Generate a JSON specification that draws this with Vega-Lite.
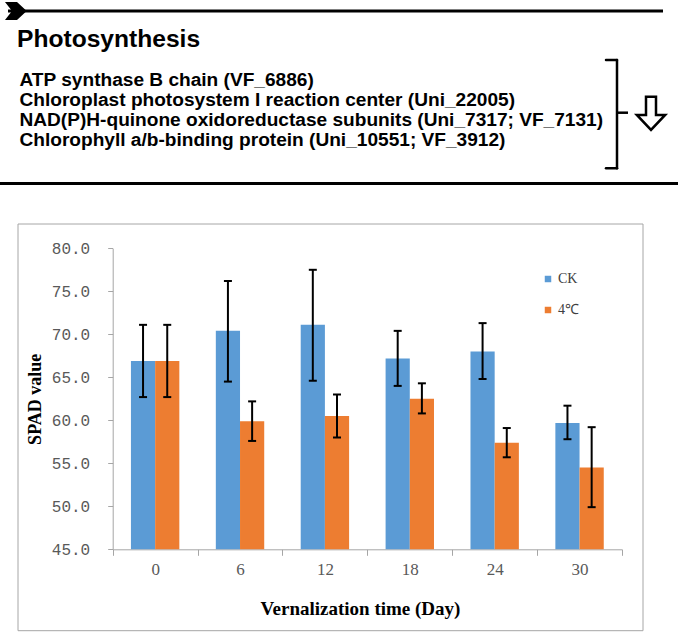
{
  "$schema": "https://vega.github.io/schema/vega-lite/v6.json",
  "width": 678,
  "height": 634,
  "padding": 0,
  "autosize": {"type": "none"},
  "background": "white",
  "config": {"view": {"stroke": null}},
  "datasets": {
    "notes": [
      {"role": "heading", "rank": 0, "label": "Photosynthesis"},
      {"role": "item", "rank": 1, "label": "ATP synthase B chain (VF_6886)"},
      {"role": "item", "rank": 2, "label": "Chloroplast photosystem I reaction center (Uni_22005)"},
      {"role": "item", "rank": 3, "label": "NAD(P)H-quinone oxidoreductase subunits (Uni_7317; VF_7131)"},
      {"role": "item", "rank": 4, "label": "Chlorophyll a/b-binding protein (Uni_10551; VF_3912)"}
    ],
    "spad": [
      {"day": 0, "treatment": "CK", "spad": 66.9, "lo": 62.7, "hi": 71.1},
      {"day": 0, "treatment": "4℃", "spad": 66.9, "lo": 62.7, "hi": 71.1},
      {"day": 6, "treatment": "CK", "spad": 70.4, "lo": 64.5, "hi": 76.2},
      {"day": 6, "treatment": "4℃", "spad": 59.9, "lo": 57.6, "hi": 62.2},
      {"day": 12, "treatment": "CK", "spad": 71.1, "lo": 64.6, "hi": 77.5},
      {"day": 12, "treatment": "4℃", "spad": 60.5, "lo": 58.0, "hi": 63.0},
      {"day": 18, "treatment": "CK", "spad": 67.2, "lo": 64.0, "hi": 70.4},
      {"day": 18, "treatment": "4℃", "spad": 62.5, "lo": 60.8, "hi": 64.3},
      {"day": 24, "treatment": "CK", "spad": 68.0, "lo": 64.8, "hi": 71.3},
      {"day": 24, "treatment": "4℃", "spad": 57.4, "lo": 55.7, "hi": 59.1},
      {"day": 30, "treatment": "CK", "spad": 59.7, "lo": 57.8, "hi": 61.7},
      {"day": 30, "treatment": "4℃", "spad": 54.5, "lo": 49.9, "hi": 59.2}
    ]
  },
  "layer": [
    {
      "data": {"name": "notes"},
      "transform": [{"filter": "datum.role === 'heading'"}],
      "layer": [
        {
          "mark": {"type": "rect", "filled": false, "color": "#A6A6A6", "strokeWidth": 1},
          "encoding": {
            "x": {"datum": 18, "type": "quantitative", "scale": {"domain": [0, 678], "range": [0, 678], "nice": false, "zero": false}, "axis": null},
            "x2": {"datum": 643},
            "y": {"datum": 224, "type": "quantitative", "scale": {"domain": [0, 634], "range": [0, 634], "nice": false, "zero": false}, "axis": null},
            "y2": {"datum": 630.7}
          }
        },
        {
          "mark": {"type": "rule", "color": "black", "strokeWidth": 3},
          "encoding": {
            "x": {"datum": 8, "type": "quantitative", "scale": {"domain": [0, 678], "range": [0, 678], "nice": false, "zero": false}, "axis": null},
            "x2": {"datum": 663},
            "y": {"datum": 11, "type": "quantitative", "scale": {"domain": [0, 634], "range": [0, 634], "nice": false, "zero": false}, "axis": null}
          }
        },
        {
          "mark": {"type": "point", "shape": "M-1,-0.83L0.106,-0.83L1,0L0.106,0.83L-1,0.83L-0.355,0Z", "filled": true, "color": "black", "size": 471, "opacity": 1},
          "encoding": {
            "x": {"datum": 15.85, "type": "quantitative", "scale": {"domain": [0, 678], "range": [0, 678], "nice": false, "zero": false}, "axis": null},
            "y": {"datum": 11, "type": "quantitative", "scale": {"domain": [0, 634], "range": [0, 634], "nice": false, "zero": false}, "axis": null}
          }
        },
        {
          "mark": {"type": "rule", "color": "black", "strokeWidth": 3},
          "encoding": {
            "x": {"datum": 0, "type": "quantitative", "scale": {"domain": [0, 678], "range": [0, 678], "nice": false, "zero": false}, "axis": null},
            "x2": {"datum": 678},
            "y": {"datum": 183.5, "type": "quantitative", "scale": {"domain": [0, 634], "range": [0, 634], "nice": false, "zero": false}, "axis": null}
          }
        },
        {
          "mark": {"type": "rule", "color": "black", "strokeWidth": 2.5, "strokeCap": "round"},
          "encoding": {
            "x": {"datum": 617, "type": "quantitative", "scale": {"domain": [0, 678], "range": [0, 678], "nice": false, "zero": false}, "axis": null},
            "y": {"datum": 60, "type": "quantitative", "scale": {"domain": [0, 634], "range": [0, 634], "nice": false, "zero": false}, "axis": null},
            "y2": {"datum": 168.3}
          }
        },
        {
          "mark": {"type": "rule", "color": "black", "strokeWidth": 2.5, "strokeCap": "round"},
          "encoding": {
            "x": {"datum": 606, "type": "quantitative", "scale": {"domain": [0, 678], "range": [0, 678], "nice": false, "zero": false}, "axis": null},
            "x2": {"datum": 617},
            "y": {"datum": 60, "type": "quantitative", "scale": {"domain": [0, 634], "range": [0, 634], "nice": false, "zero": false}, "axis": null}
          }
        },
        {
          "mark": {"type": "rule", "color": "black", "strokeWidth": 2.5, "strokeCap": "round"},
          "encoding": {
            "x": {"datum": 606, "type": "quantitative", "scale": {"domain": [0, 678], "range": [0, 678], "nice": false, "zero": false}, "axis": null},
            "x2": {"datum": 617},
            "y": {"datum": 168.3, "type": "quantitative", "scale": {"domain": [0, 634], "range": [0, 634], "nice": false, "zero": false}, "axis": null}
          }
        },
        {
          "mark": {"type": "rule", "color": "black", "strokeWidth": 2.5},
          "encoding": {
            "x": {"datum": 617, "type": "quantitative", "scale": {"domain": [0, 678], "range": [0, 678], "nice": false, "zero": false}, "axis": null},
            "x2": {"datum": 628},
            "y": {"datum": 112.7, "type": "quantitative", "scale": {"domain": [0, 634], "range": [0, 634], "nice": false, "zero": false}, "axis": null}
          }
        },
        {
          "mark": {"type": "point", "shape": "M-0.3,-1L0.3,-1L0.3,0.1L0.85,0.1L0,1L-0.85,0.1L-0.3,0.1Z", "filled": true, "fill": "white", "stroke": "black", "strokeWidth": 2.5, "size": 1111, "opacity": 1},
          "encoding": {
            "x": {"datum": 651, "type": "quantitative", "scale": {"domain": [0, 678], "range": [0, 678], "nice": false, "zero": false}, "axis": null},
            "y": {"datum": 113.3, "type": "quantitative", "scale": {"domain": [0, 634], "range": [0, 634], "nice": false, "zero": false}, "axis": null}
          }
        },
        {
          "mark": {"type": "text", "align": "left", "baseline": "alphabetic", "font": "Liberation Sans", "fontWeight": "bold", "fontSize": 24.6, "color": "black"},
          "encoding": {
            "x": {"datum": 17, "type": "quantitative", "scale": {"domain": [0, 678], "range": [0, 678], "nice": false, "zero": false}, "axis": null},
            "y": {"datum": 46.7, "type": "quantitative", "scale": {"domain": [0, 634], "range": [0, 634], "nice": false, "zero": false}, "axis": null},
            "text": {"field": "label"}
          }
        }
      ]
    },
    {
      "data": {"name": "notes"},
      "transform": [{"filter": "datum.role === 'item'"}],
      "mark": {"type": "text", "align": "left", "baseline": "alphabetic", "font": "Liberation Sans", "fontWeight": "bold", "fontSize": 19.1, "color": "black"},
      "encoding": {
        "x": {"datum": 19.5, "type": "quantitative", "scale": {"domain": [0, 678], "range": [0, 678], "nice": false, "zero": false}, "axis": null},
        "y": {"field": "rank", "type": "quantitative", "scale": {"domain": [1, 4], "range": [85.5, 146], "nice": false, "zero": false}, "axis": null},
        "text": {"field": "label"}
      }
    },
    {
      "data": {"name": "spad"},
      "encoding": {
        "x": {
          "field": "day", "type": "ordinal",
          "scale": {"range": [112.7, 622], "paddingInner": 0, "paddingOuter": 0},
          "axis": {
            "title": "Vernalization time (Day)", "orient": "bottom", "offset": -84.7,
            "labelAngle": 0, "tickBand": "extent", "tickSize": 6, "tickColor": "#A6A6A6",
            "domainColor": "#A6A6A6", "labelFont": "Liberation Serif", "labelFontSize": 17,
            "labelColor": "#595959", "labelPadding": 6, "grid": false,
            "titleFont": "Liberation Serif", "titleFontWeight": "bold", "titleFontSize": 19,
            "titleColor": "black", "titleX": 360, "titleY": 65, "titleBaseline": "alphabetic", "titleAlign": "center"
          }
        },
        "xOffset": {"field": "treatment", "type": "nominal", "sort": ["CK", "4℃"], "scale": {"paddingInner": 0, "paddingOuter": 0.754}}
      },
      "layer": [
        {
          "mark": {"type": "bar"},
          "encoding": {
            "y": {
              "field": "spad", "type": "quantitative", "title": "SPAD value",
              "scale": {"domain": [45, 80], "range": [549.3, 248.3], "clamp": true, "nice": false, "zero": false},
              "axis": {
                "orient": "left", "offset": -112.7, "values": [45, 50, 55, 60, 65, 70, 75, 80], "format": ".1f",
                "tickSize": 5, "tickColor": "#A6A6A6", "domainColor": "#A6A6A6",
                "labelFont": "Liberation Mono", "labelFontSize": 16, "labelColor": "#595959", "labelPadding": 18,
                "grid": false, "titleFont": "Liberation Serif", "titleFontWeight": "bold", "titleFontSize": 18,
                "titleColor": "black", "titleX": -77.7, "titleY": 398.8, "titleAngle": 270, "titleAlign": "center", "titleBaseline": "middle"
              }
            },
            "color": {
              "field": "treatment", "type": "nominal", "sort": ["CK", "4℃"],
              "scale": {"domain": ["CK", "4℃"], "range": ["#5B9BD5", "#ED7D31"]},
              "legend": {
                "orient": "none", "legendX": 541, "legendY": 272, "title": null, "symbolType": "square",
                "symbolSize": 42, "symbolStrokeWidth": 0, "labelFont": "Liberation Serif", "labelFontSize": 14,
                "labelColor": "#404040", "labelOffset": 3, "rowPadding": 17, "padding": 0
              }
            }
          }
        },
        {
          "mark": {"type": "rule", "color": "black", "strokeWidth": 2},
          "encoding": {
            "y": {"field": "lo", "type": "quantitative", "title": "SPAD value"},
            "y2": {"field": "hi"}
          }
        },
        {
          "mark": {"type": "tick", "orient": "horizontal", "color": "black", "thickness": 2, "size": 8, "opacity": 1},
          "encoding": {"y": {"field": "lo", "type": "quantitative", "title": "SPAD value"}}
        },
        {
          "mark": {"type": "tick", "orient": "horizontal", "color": "black", "thickness": 2, "size": 8, "opacity": 1},
          "encoding": {"y": {"field": "hi", "type": "quantitative", "title": "SPAD value"}}
        }
      ]
    }
  ],
  "resolve": {"scale": {"x": "independent", "y": "independent"}}
}
